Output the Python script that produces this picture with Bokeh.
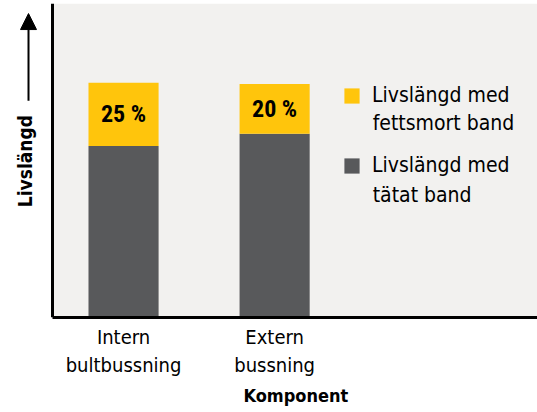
import math
from bokeh.plotting import figure
from bokeh.models import (ColumnDataSource, Range1d, FixedTicker, Legend, LegendItem,
                          Label, Arrow, NormalHead, LinearAxis, BoxAnnotation, Title)
from bokeh.embed import file_html
from bokeh.resources import INLINE
from bokeh.core.properties import value

# ---- data ----
categories = ["Intern\nbultbussning", "Extern\nbussning"]
x_pos = [1, 2]
base_life = [54.6, 58.5]      # Livslängd med tätat band
extra_life = [20.2, 15.9]     # extra with fettsmort band
pct_labels = ["25 %", "20 %"]
series_first = ["Livslängd med", "Livslängd med"]
series_second = ["tätat band", "fettsmort band"]

FONT = "DejaVu Sans Condensed"
FONT_NUM = "Roboto Condensed"
GRAY = "#58595b"
YELLOW = "#ffc50c"
BG = "#f2f1ef"

X0, X1 = 0.53, 3.74          # extent of the chart area (axis bounds)

src = ColumnDataSource(dict(
    x=x_pos, base=base_life, extra=extra_life,
    label=pct_labels,
    label_y=[b + e / 2 for b, e in zip(base_life, extra_life)],
))

p = figure(width=537, height=412, output_backend="svg", toolbar_location=None,
           x_range=Range1d(0.1856, X1), y_range=Range1d(0, 100),
           y_axis_location=None,
           min_border_left=0, min_border_right=0, min_border_top=3, min_border_bottom=0)
p.background_fill_color = "white"
p.border_fill_color = "white"
p.outline_line_color = None
p.grid.visible = False

p.add_layout(BoxAnnotation(left=X0, fill_color=BG, fill_alpha=1, line_color=None,
                           level="underlay"))

rs = p.vbar_stack(["base", "extra"], x="x", width=0.464, color=[GRAY, YELLOW],
                  line_color=None, source=src)

p.text(x="x", y="label_y", text="label", source=src, text_align="center",
       text_baseline="middle", text_font=value(FONT_NUM), text_font_style="bold",
       text_font_size="24px", text_color="black")

# x axis
xa = p.xaxis[0]
xa.bounds = (X0, X1)
xa.ticker = FixedTicker(ticks=x_pos)
xa.major_label_overrides = {x: c for x, c in zip(x_pos, categories)}
xa.major_tick_line_color = None
xa.major_tick_out = 0
xa.major_tick_in = 0
xa.minor_tick_line_color = None
xa.minor_tick_out = 0
xa.major_label_text_font = FONT
xa.major_label_text_font_size = "20px"
xa.major_label_text_color = "black"
xa.major_label_standoff = 7
xa.axis_line_width = 3
xa.axis_line_color = "black"

# x axis title, centred under the chart area
p.add_layout(Title(text="Komponent", align="left", offset=243, standoff=9,
                   vertical_align="top",
                   text_font=FONT, text_font_style="bold", text_font_size="18px",
                   text_color="black"), "below")

# y axis: plain line at the left edge of the chart area
ya = LinearAxis(fixed_location=X0, ticker=FixedTicker(ticks=[]),
                major_tick_line_color=None, minor_tick_line_color=None,
                major_tick_out=0, minor_tick_out=0,
                axis_line_width=3, axis_line_color="black")
p.add_layout(ya, "left")

# y label + arrow
p.add_layout(Label(x=0.351, y=49.8, text="Livslängd",
                   angle=math.pi / 2, text_align="center", text_baseline="middle",
                   text_font=FONT, text_font_style="bold", text_font_size="19px",
                   text_color="black"))
p.add_layout(Arrow(x_start=0.371, y_start=69.0, x_end=0.371, y_end=96.8,
                   line_width=2, line_color="black",
                   end=NormalHead(size=16, fill_color="black", line_color="black")))

legend = Legend(items=[LegendItem(label=series_first[1], renderers=[rs[1]]),
                       LegendItem(label=series_first[0], renderers=[rs[0]])],
                location=(342, 140), glyph_width=19, glyph_height=19, label_height=19,
                label_text_font=FONT, label_text_font_size="21px",
                label_text_color="black", spacing=46, padding=0, margin=0,
                background_fill_alpha=0, border_line_color=None, label_standoff=11)
p.add_layout(legend)
for txt, yy in zip(series_second, [39.0, 62.0]):
    p.add_layout(Label(x=2.649, y=yy, text=txt, text_baseline="alphabetic",
                       text_font=FONT, text_font_size="21px", text_color="black"))

open("out.html", "w").write(file_html(p, INLINE))
